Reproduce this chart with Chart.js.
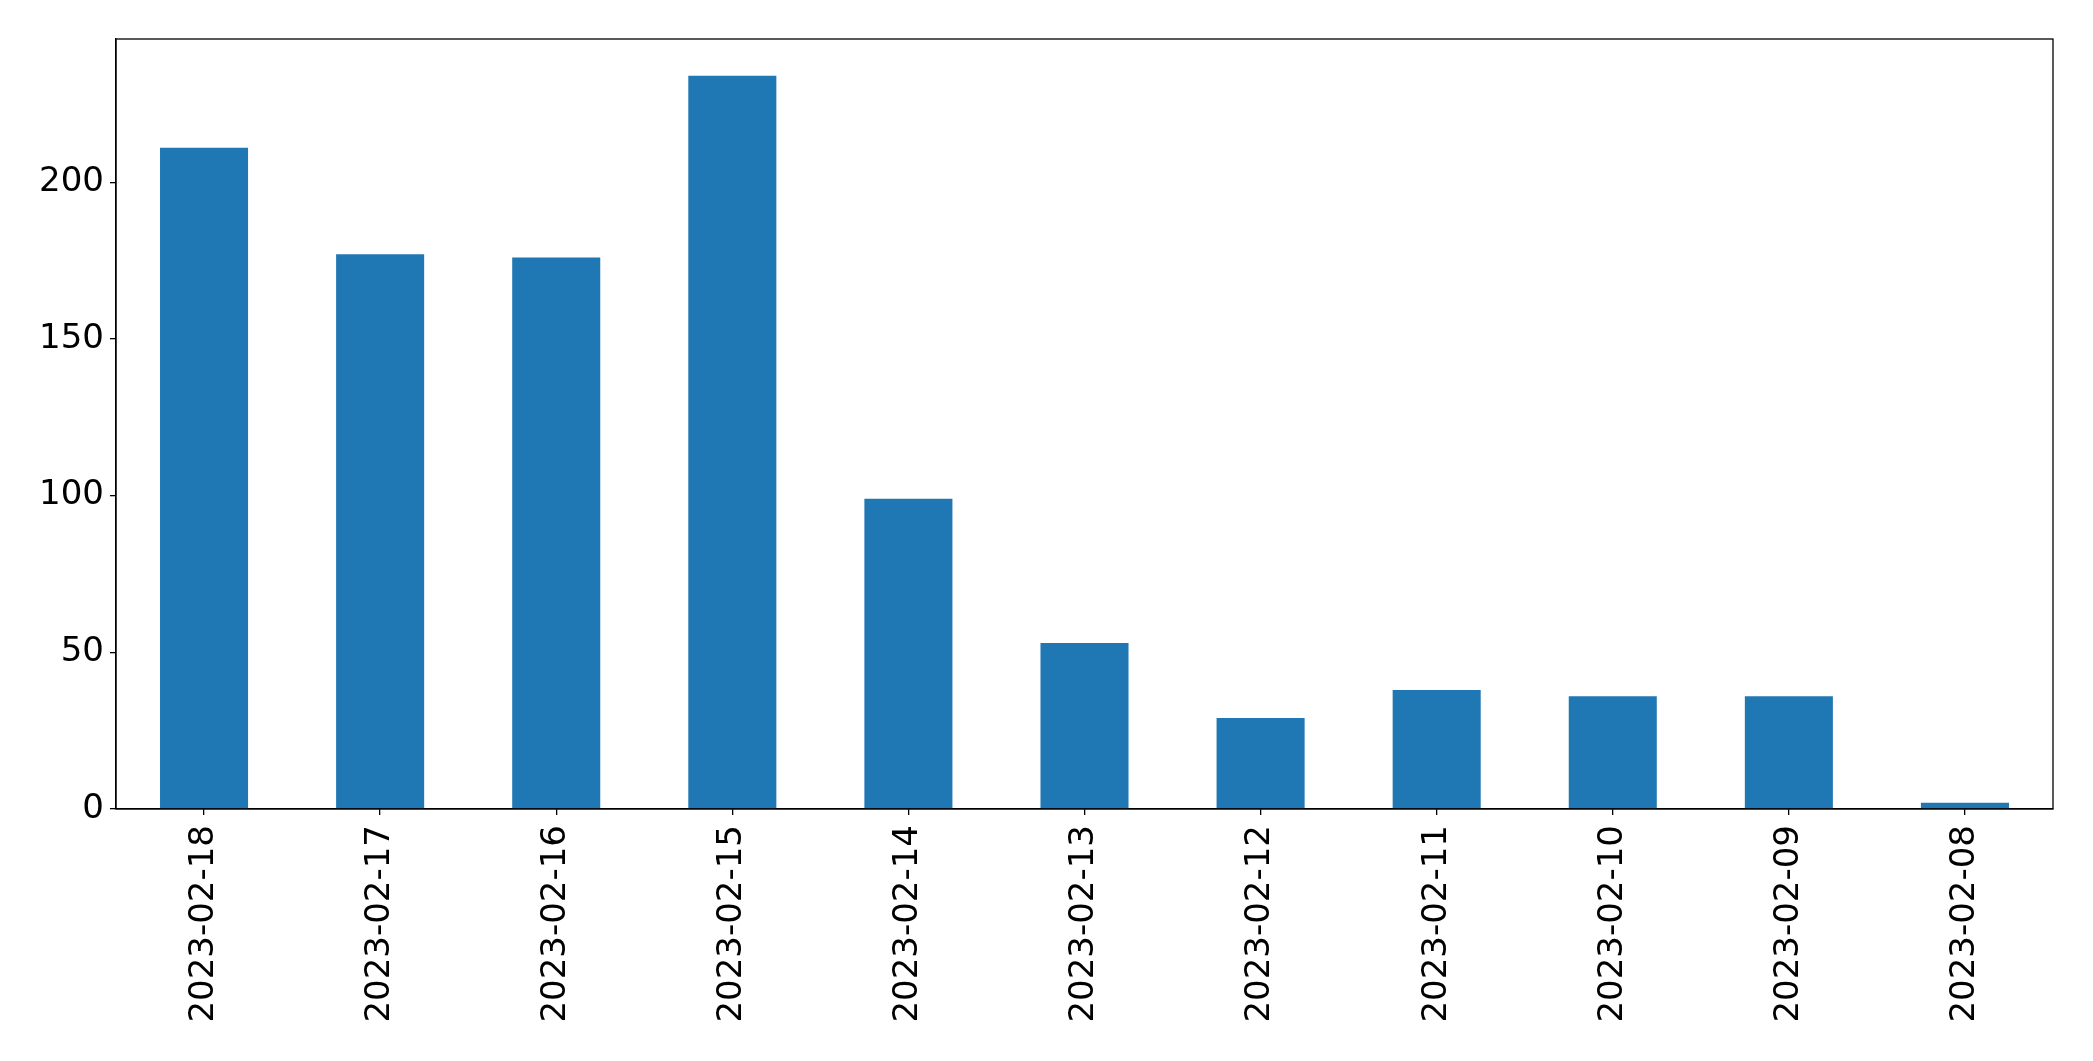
<!DOCTYPE html>
<html>
<head>
<meta charset="utf-8">
<script src="https://cdn.jsdelivr.net/npm/chart.js@4/dist/chart.umd.min.js"></script>
<style>
html, body { margin: 0; padding: 0; background: #fff; }
#wrap { width: 2093px; height: 1061px; position: relative; }
</style>
</head>
<body>
<div id="wrap"><canvas id="c" width="2093" height="1061"></canvas></div>
<script>
const categories = ["2023-02-18", "2023-02-17", "2023-02-16", "2023-02-15", "2023-02-14", "2023-02-13", "2023-02-12", "2023-02-11", "2023-02-10", "2023-02-09", "2023-02-08"];
const values = [211, 177, 176, 234, 99, 53, 29, 38, 36, 36, 2];
const yTicks = [0, 50, 100, 150, 200];

const yMax = Math.max(...values) * 1.05;

const frame = {
  id: 'frame',
  afterDraw(chart) {
    const a = chart.chartArea, ctx = chart.ctx;
    ctx.save();
    ctx.strokeStyle = '#000';
    ctx.lineWidth = 1.3;
    ctx.strokeRect(a.left, a.top, a.right - a.left, a.bottom - a.top);
    ctx.restore();
  }
};

new Chart(document.getElementById('c'), {
  type: 'bar',
  data: {
    labels: categories,
    datasets: [{
      data: values,
      backgroundColor: '#1f77b4',
      borderWidth: 0,
      barPercentage: 0.5,
      categoryPercentage: 1.0
    }]
  },
  options: {
    responsive: false,
    animation: false,
    devicePixelRatio: 1,
    layout: { padding: { top: 39, right: 40, left: 0, bottom: 0 } },
    plugins: { legend: { display: false }, tooltip: { enabled: false } },
    scales: {
      x: {
        type: 'category',
        offset: true,
        grid: { display: true, offset: false, drawOnChartArea: false, drawTicks: true, tickLength: 6, color: '#000', lineWidth: 1.3 },
        border: { display: true, color: '#000', width: 1.3 },
        ticks: {
          color: '#000',
          font: { family: 'DejaVu Sans', size: 34 },
          maxRotation: 90, minRotation: 90,
          padding: 10,
          autoSkip: false
        },
        afterFit(scale) { scale.height = 1061 - 809; }
      },
      y: {
        min: 0,
        max: yMax,
        grid: { display: true, drawOnChartArea: false, drawTicks: true, tickLength: 6, color: '#000', lineWidth: 1.3 },
        border: { display: true, color: '#000', width: 1.3 },
        afterBuildTicks(scale) { scale.ticks = yTicks.map(v => ({ value: v })); },
        ticks: {
          color: '#000',
          font: { family: 'DejaVu Sans', size: 34 },
          padding: 6
        },
        afterFit(scale) { scale.width = 116; }
      }
    }
  },
  plugins: [frame]
});
</script>
</body>
</html>
